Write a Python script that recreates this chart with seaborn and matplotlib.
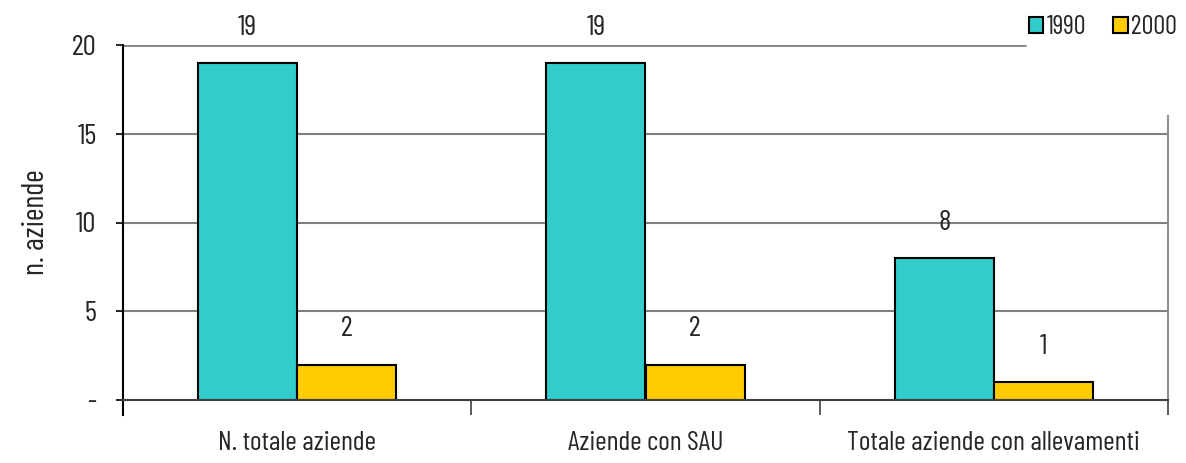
import matplotlib
matplotlib.use("Agg")
import matplotlib.pyplot as plt
import seaborn as sns
import pandas as pd
from matplotlib.patches import Patch

# ── Data ────────────────────────────────────────────────────────────────────
categories = ["N. totale aziende", "Aziende con SAU", "Totale aziende con allevamenti"]
years = ["1990", "2000"]
values_1990 = [19, 19, 8]
values_2000 = [2, 2, 1]
y_ticks = [0, 5, 10, 15, 20]
y_tick_labels = ["-", "5", "10", "15", "20"]

colors = {"1990": "#33CCCC", "2000": "#FFCC00"}

df = pd.DataFrame({
    "categoria": categories * 2,
    "anno": [years[0]] * 3 + [years[1]] * 3,
    "valore": values_1990 + values_2000,
})

# ── Style ───────────────────────────────────────────────────────────────────
sns.set_style("white")
plt.rcParams["font.family"] = ["Barlow Condensed", "Archivo Narrow", "Liberation Sans", "DejaVu Sans"]
FS = 20

fig = plt.figure(figsize=(11.86, 4.63), dpi=100)
ax = fig.add_axes([123 / 1186, 63 / 463, 1045 / 1186, 355 / 463])

sns.barplot(data=df, x="categoria", y="valore", hue="anno", order=categories,
            hue_order=years, palette=colors, width=0.57, edgecolor="black",
            linewidth=1.5, saturation=1, legend=False, ax=ax)

ax.set_xlim(-0.5, 2.5)
ax.set_ylim(0, 20)

# grid lines (the top one is cut short by the legend)
for yv in y_ticks[1:-1]:
    ax.axhline(yv, color="#808080", lw=1.5, zorder=0)
ax.axhline(20, xmax=(1025 - 123) / 1045, color="#808080", lw=2, zorder=0)

# value labels
for cont in ax.containers:
    for bar in cont:
        h = bar.get_height()
        ax.annotate(f"{h:.0f}", (bar.get_x() + bar.get_width() / 2, h),
                    xytext=(0, 16), textcoords="offset points",
                    ha="center", va="bottom", fontsize=21, annotation_clip=False)

# axes frame
ax.spines["top"].set_visible(False)
ax.spines["left"].set_color("black")
ax.spines["left"].set_linewidth(1.5)
ax.spines["left"].set_bounds(-0.85, 20)
ax.spines["bottom"].set_color("#404040")
ax.spines["bottom"].set_linewidth(1.5)
ax.spines["right"].set_color("#909090")
ax.spines["right"].set_linewidth(1.5)
ax.spines["right"].set_bounds(0, 16)

ax.set_yticks(y_ticks)
ax.set_yticklabels(y_tick_labels, fontsize=21)
ax.tick_params(axis="y", direction="out", length=5, width=1.2, color="black", pad=14, left=True)

ax.set_xticks(range(len(categories)))
ax.set_xticklabels(categories, fontsize=FS)
ax.tick_params(axis="x", which="major", length=0, pad=22)
ax.set_xticks([-0.5, 0.5, 1.5, 2.5], minor=True)
ax.tick_params(axis="x", which="minor", direction="out", length=11, width=1.2,
               color="#404040", bottom=True)

ax.set_xlabel("")
ax.set_ylabel("n. aziende", fontsize=22, labelpad=16)

handles = [Patch(facecolor=colors[y], edgecolor="black", linewidth=1.5, label=y) for y in years]
fig.legend(handles=handles, loc="center", bbox_to_anchor=(1103 / 1186, 1 - 27 / 463),
           ncol=2, frameon=False, fontsize=19, handlelength=0.55, handleheight=0.55,
           handletextpad=0.15, columnspacing=1.0)

fig.savefig("out.png", dpi=100)
